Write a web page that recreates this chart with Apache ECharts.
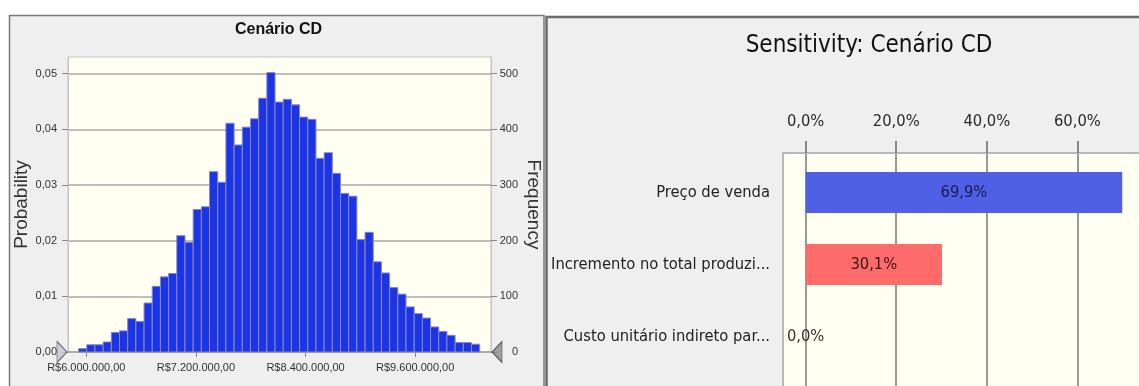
<!DOCTYPE html>
<html><head><meta charset="utf-8">
<script src="https://cdn.jsdelivr.net/npm/echarts@6/dist/echarts.min.js"></script>
<style>html,body{margin:0;padding:0;background:#fff}#c{width:1139px;height:386px}</style>
</head><body><div id="c"></div>
<script>
// ---- data ----
const histTitle = 'Cenário CD';
const sensTitle = 'Sensitivity: Cenário CD';
const trials = 10000;
const binStart = 5915700;
const binWidth = 89600;
const frequencies = [6,13,13,18,35,38,60,55,88,118,135,141,209,197,256,261,324,305,411,372,404,419,456,502,449,454,444,422,418,348,358,321,285,280,202,215,162,142,116,104,81,69,61,45,37,30,17,17,14];
const xTickValues = [6000000,7200000,8400000,9600000];
const probTicks = [0,0.01,0.02,0.03,0.04,0.05];
const freqTicks = [0,100,200,300,400,500];
const sensCategories = ['Preço de venda','Incremento no total produzi...','Custo unitário indireto par...'];
const sensValues = [69.9,30.1,0.0];
const sensColors = ['#4f5fe6','#ff6b6b','#999999'];
const sensLabelColors = ['#1a1a4a','#3a1515','#333333'];
const sensTicks = [0,20,40,60];

const NARROW = '"Liberation Sans Narrow","DejaVu Sans Condensed","Arial Narrow",sans-serif';
const REG = '"Liberation Sans",Arial,sans-serif';

function brl(v){ return 'R$' + Math.round(v).toString().replace(/\B(?=(\d{3})+(?!\d))/g,'.') + ',00'; }

const histData = frequencies.map((f,i)=>[binStart+i*binWidth, binStart+(i+1)*binWidth, f]);
const sensData = sensValues.map((v,i)=>[i, v]);

const chart = echarts.init(document.getElementById('c'), null, {renderer:'canvas'});
chart.setOption({
  animation:false,
  backgroundColor:'#ffffff',
  graphic:[
    {type:'rect', z:-100, shape:{x:9.5,y:15.5,width:534.5,height:380}, style:{fill:'#efefef', stroke:'#7a7a7a', lineWidth:1.5}},
    {type:'rect', z:-100, shape:{x:546.5,y:17,width:600,height:380}, style:{fill:'#efefef', stroke:'#6a6a6a', lineWidth:2.5}},
    {type:'text', z:10, x:278.5, y:30, style:{text:histTitle, font:'bold 16px '+REG, fill:'#111', align:'center', verticalAlign:'middle'}},
    {type:'text', z:10, x:869, y:46, style:{text:sensTitle, font:'24px '+NARROW, fill:'#111', align:'center', verticalAlign:'middle'}}
  ],
  grid:[
    {left:68, top:57, width:423, height:295, show:true, backgroundColor:'#fffff2', borderColor:'#c4c4c4', borderWidth:1},
    {left:783, top:153, right:0, bottom:0, show:true, backgroundColor:'#fffff2', borderWidth:0}
  ],
  xAxis:[
    {type:'value', gridIndex:0, min:5800000, max:10430000,
     axisLine:{show:true, onZero:false, lineStyle:{color:'#a8a8a8', width:1.5}},
     axisTick:{show:true, customValues:xTickValues, length:5, lineStyle:{color:'#888'}},
     axisLabel:{customValues:xTickValues, formatter:brl, fontSize:11, fontFamily:REG, color:'#333', margin:10},
     splitLine:{show:false}},
    {type:'value', gridIndex:1, position:'top', min:-5, max:73.6,
     axisLine:{show:true, onZero:false, lineStyle:{color:'#b8b8b8', width:2}},
     axisTick:{show:true, customValues:sensTicks, length:12, lineStyle:{color:'#666', width:1.5}},
     axisLabel:{customValues:sensTicks, formatter:v=>v.toFixed(1).replace('.',',')+'%', fontSize:16.4, fontFamily:NARROW, color:'#2a2a2a', margin:23},
     splitLine:{show:true, lineStyle:{color:'#777', width:1.5}}}
  ],
  yAxis:[
    {type:'value', gridIndex:0, position:'left', min:0, max:0.053,
     axisLine:{show:true, onZero:false, lineStyle:{color:'#c4c4c4'}},
     axisTick:{show:true, customValues:probTicks, length:6, lineStyle:{color:'#888'}},
     axisLabel:{customValues:probTicks, formatter:v=>v.toFixed(2).replace('.',','), fontSize:11, fontFamily:REG, color:'#333', margin:11},
     splitLine:{show:true, lineStyle:{color:'#a8a8a8', width:1.5}},
     name:'Probability', nameLocation:'middle', nameGap:37, nameRotate:90,
     nameTextStyle:{fontSize:19, fontFamily:REG, color:'#333'}},
    {type:'value', gridIndex:0, position:'right', min:0, max:trials*0.053,
     axisLine:{show:true, onZero:false, lineStyle:{color:'#c4c4c4'}},
     axisTick:{show:true, customValues:freqTicks, length:6, lineStyle:{color:'#888'}},
     axisLabel:{customValues:freqTicks, fontSize:11, fontFamily:REG, color:'#333', margin:27, align:'right'},
     splitLine:{show:false},
     name:'Frequency', nameLocation:'middle', nameGap:33, nameRotate:-90,
     nameTextStyle:{fontSize:19, fontFamily:REG, color:'#333'}},
    {type:'value', gridIndex:1, inverse:true, min:-0.55, max:2.686,
     axisLine:{show:true, onZero:false, lineStyle:{color:'#b8b8b8', width:2}},
     axisTick:{show:false, customValues:[0,1,2]},
     axisLabel:{customValues:[0,1,2], formatter:v=>sensCategories[Math.round(v)], fontSize:16.4, fontFamily:NARROW, color:'#222', margin:13},
     splitLine:{show:false}}
  ],
  series:[
    {type:'custom', xAxisIndex:0, yAxisIndex:1, data:histData, encode:{x:[0,1], y:2},
     renderItem:(params, api)=>{
       const p0 = api.coord([api.value(0), api.value(2)]);
       const p1 = api.coord([api.value(1), 0]);
       return {type:'rect', shape:{x:p0[0], y:p0[1], width:p1[0]-p0[0], height:p1[1]-p0[1]},
               style:{fill:'#1b34e8', stroke:'#8a8ab0', lineWidth:1}};
     }},
    {type:'scatter', xAxisIndex:0, yAxisIndex:1, data:[[5800000,0]], clip:false, silent:true, z:5,
     symbol:'path://M0,0 L10,10 L0,20 Z', symbolSize:[10,21], symbolOffset:[-6,0],
     itemStyle:{color:'#c4c4dc', borderColor:'#555', borderWidth:1}},
    {type:'scatter', xAxisIndex:0, yAxisIndex:1, data:[[10430000,0]], clip:false, silent:true, z:5,
     symbol:'path://M10,0 L0,10 L10,20 Z', symbolSize:[10,21], symbolOffset:[6,0],
     itemStyle:{color:'#8a8a8a', borderColor:'#444', borderWidth:1}},
    {type:'custom', xAxisIndex:1, yAxisIndex:2, data:sensData, encode:{x:1, y:0}, z:3,
     renderItem:(params, api)=>{
       const i = api.value(0), v = api.value(1);
       const p0 = api.coord([0, i-0.285]);
       const p1 = api.coord([v, i+0.285]);
       const children = [];
       if (v > 0) children.push({type:'rect', shape:{x:p0[0], y:p0[1], width:p1[0]-p0[0], height:p1[1]-p0[1]}, style:{fill:sensColors[i]}});
       children.push({type:'text', z2:10, x:(p0[0]+p1[0])/2, y:(p0[1]+p1[1])/2,
         style:{text:v.toFixed(1).replace('.',',')+'%', font:'16.4px '+NARROW, fill:sensLabelColors[i], align:'center', verticalAlign:'middle'}});
       return {type:'group', children};
     }}
  ]
});
</script></body></html>
